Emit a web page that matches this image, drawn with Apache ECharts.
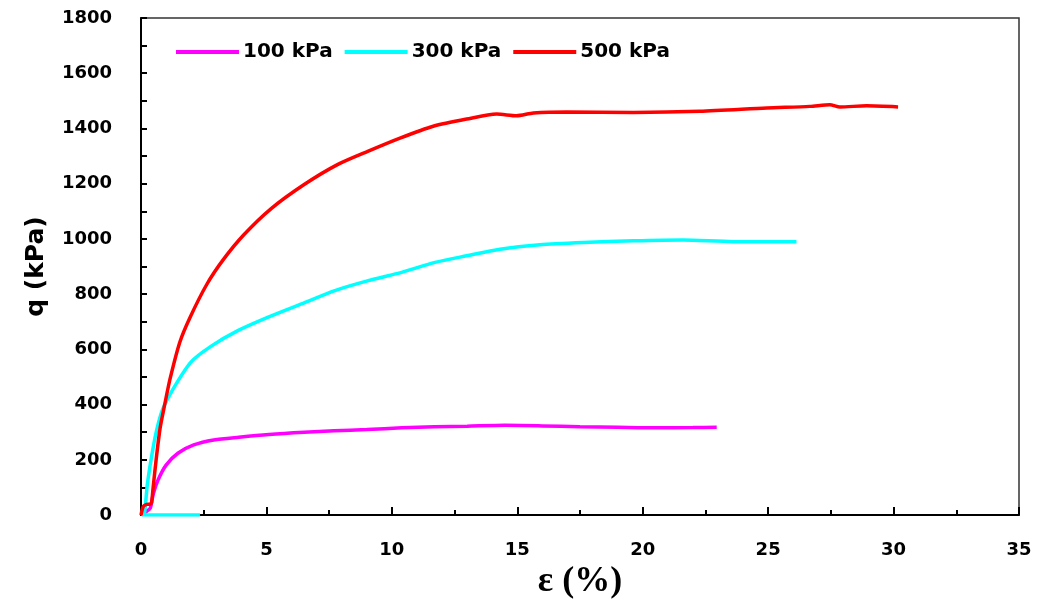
<!DOCTYPE html>
<html>
<head>
<meta charset="utf-8">
<script src="https://cdn.jsdelivr.net/npm/echarts@6/dist/echarts.min.js"></script>
<style>
  html, body { margin: 0; padding: 0; background: #fff; }
  #grafico { width: 1037px; height: 605px; }
</style>
</head>
<body>
<div id="grafico"></div>
<script>
// Dados (deformação em %, q em kPa)
const seriesNames = ['100 kPa', '300 kPa', '500 kPa'];

const eps100 = [0, 0.2, 0.37, 0.48, 0.68, 1.0, 1.47, 2.1, 2.9, 3.9, 5.1, 6.5, 7.7, 9.0, 10.4, 11.7, 13.0, 14.5, 16.0, 17.5, 19.0, 20.5, 22.0, 22.95];
const q100   = [0, 12, 25, 73, 127, 181, 224, 254, 272, 282, 292, 300, 305, 310, 316, 320, 322, 325, 323, 320, 318, 316, 317, 318];

const eps300 = [2.35, 0.05, 0.1, 0.15, 0.25, 0.41, 0.61, 0.85, 1.3, 2.0, 2.8, 3.86, 5.07, 6.4, 7.73, 9.06, 10.39, 11.72, 12.98, 14.31, 15.9, 17.63, 19.63, 21.61, 23.6, 26.13];
const q300   = [0, 0, 4, 13, 109, 206, 302, 380, 460, 555, 612, 668, 717, 765, 813, 849, 879, 915, 939, 963, 979, 987, 993, 996, 990, 990];

const eps500 = [0, 0.09, 0.2, 0.36, 0.42, 0.48, 0.61, 0.76, 0.94, 1.16, 1.55, 1.95, 2.62, 3.28, 4.1, 5.19, 6.52, 7.85, 9.06, 10.35, 11.65, 12.98, 14.18, 14.97, 15.64, 16.97, 19.63, 22.28, 24.94, 26.66, 27.46, 27.86, 28.92, 30.18];
const q500   = [0, 31, 38, 40, 45, 97, 206, 314, 398, 494, 627, 715, 835, 925, 1015, 1110, 1198, 1270, 1318, 1366, 1408, 1434, 1452, 1446, 1456, 1460, 1458, 1462, 1474, 1480, 1486, 1478, 1482, 1478];

const cores = ['#ff00ff', '#00ffff', '#ff0000'];

function pares(xs, ys) {
    return xs.map((x, i) => [x, ys[i]]);
}

const fonte = 'DejaVu Sans';

function serie(i, xs, ys) {
    return {
        name: seriesNames[i],
        type: 'line',
        data: pares(xs, ys),
        smooth: 0.25,
        showSymbol: false,
        symbol: 'none',
        lineStyle: { color: cores[i], width: 3.5 },
        itemStyle: { color: cores[i] }
    };
}

var chartDom = document.getElementById('grafico');
var myChart = echarts.init(chartDom);
var option = {
    animation: false,
    backgroundColor: '#fff',
    grid: {
        left: 141,
        right: 18,
        top: 18,
        bottom: 88,
        show: true,
        borderColor: '#333',
        borderWidth: 1.5
    },
    legend: {
        data: seriesNames,
        left: 171,
        top: 37,
        icon: 'rect',
        itemWidth: 63,
        itemHeight: 4,
        itemGap: 12,
        textStyle: {
            fontFamily: fonte,
            fontWeight: 'bold',
            fontSize: 20,
            color: '#000',
            padding: [0, 0, 0, -1]
        }
    },
    xAxis: {
        type: 'value',
        min: 0,
        max: 35,
        interval: 5,
        name: 'ε (%)',
        nameLocation: 'middle',
        nameGap: 47,
        nameTextStyle: {
            fontFamily: 'Liberation Serif',
            fontWeight: 'bold',
            fontSize: 36,
            color: '#000'
        },
        axisLine: { lineStyle: { color: '#000', width: 2 } },
        axisTick: { inside: true, length: 8, lineStyle: { color: '#000', width: 2 } },
        minorTick: { show: true, splitNumber: 2, length: 5, lineStyle: { color: '#000', width: 2 } },
        splitLine: { show: false },
        axisLabel: {
            margin: 26,
            fontFamily: fonte,
            fontWeight: 'bold',
            fontSize: 18,
            color: '#000'
        }
    },
    yAxis: {
        type: 'value',
        min: 0,
        max: 1800,
        interval: 100,
        name: 'q (kPa)',
        nameLocation: 'middle',
        nameGap: 92,
        nameTextStyle: {
            fontFamily: fonte,
            fontWeight: 'bold',
            fontSize: 25,
            color: '#000'
        },
        axisLine: { lineStyle: { color: '#000', width: 2 } },
        axisTick: { inside: true, length: 6, lineStyle: { color: '#000', width: 2 } },
        splitLine: { show: false },
        axisLabel: {
            margin: 29,
            fontFamily: fonte,
            fontWeight: 'bold',
            fontSize: 18,
            color: '#000',
            formatter: function (v) { return v % 200 === 0 ? String(v) : ''; }
        }
    },
    series: [
        serie(0, eps100, q100),
        serie(1, eps300, q300),
        serie(2, eps500, q500)
    ]
};

option && myChart.setOption(option);
</script>
</body>
</html>
